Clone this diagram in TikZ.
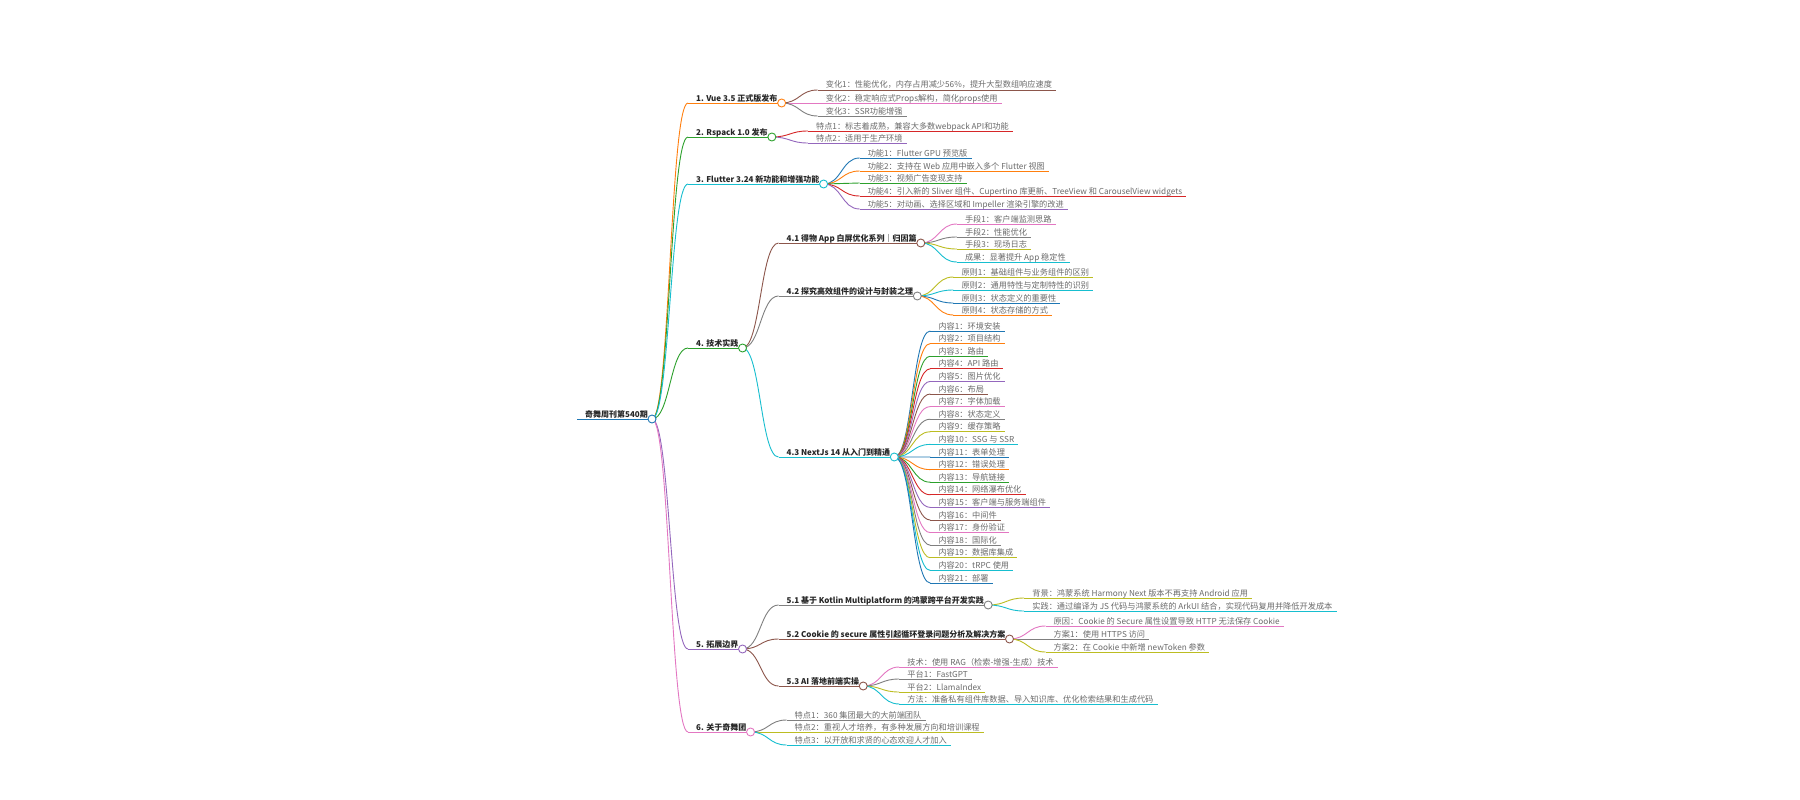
\documentclass[tikz,border=0pt]{standalone}
\usepackage{fontspec}
\setmainfont{Noto Sans CJK SC}
\usetikzlibrary{calc}
\pgfdeclarelayer{bg}
\pgfsetlayers{bg,main}
\definecolor{cBlue}{HTML}{1F77B4}
\definecolor{cOrange}{HTML}{FF7F0E}
\definecolor{cGreen}{HTML}{2CA02C}
\definecolor{cRed}{HTML}{D62728}
\definecolor{cPurple}{HTML}{9467BD}
\definecolor{cBrown}{HTML}{8C564B}
\definecolor{cPink}{HTML}{E377C2}
\definecolor{cGray}{HTML}{7F7F7F}
\definecolor{cOlive}{HTML}{BCBD22}
\definecolor{cCyan}{HTML}{17BECF}
\tikzset{
  mmline/.style={line width=0.9pt},
  mmbold/.style={font=\fontsize{8.0}{10}\selectfont\bfseries, text=black!85},
  mmleaf/.style={font=\fontsize{8.2}{10}\selectfont, text=black!58},
  mmdot/.style={circle, draw=#1, fill=white, line width=0.9pt, inner sep=0pt, minimum size=8pt},
}
% #1 parent, #2 name, #3 y, #4 colour, #5 style, #6 text
\newcommand\mmnode[6]{%
  \coordinate (mmtmp) at (0,#3);
  \path (#1-e |- mmtmp) ++(36,0) coordinate (#2-s);
  \node[anchor=base west, inner sep=0pt, #5] (#2) at ([shift={(8,-2)}]#2-s) {#6};
  \path (#2.base east) ++(4,2) coordinate (#2-e);
  \draw[#4, mmline] (#2-s) -- (#2-e);
  \begin{pgfonlayer}{bg}
    \draw[#4, mmline] (#1-e) .. controls +(18,0) and +(-18,0) .. (#2-s);
  \end{pgfonlayer}%
}
\newcommand\mmdot[2]{\node[mmdot=#2] (#1-c) at (#1-e) {};}
\begin{document}
\begin{tikzpicture}[x=1pt, y=-1pt]
\begin{pgfonlayer}{bg}
\fill[white] (0,0) rectangle (1800,800);
\end{pgfonlayer}
\useasboundingbox (0,0) rectangle (1800,800);

% root
\coordinate (root-s) at (577,419);
\node[anchor=base west, inner sep=0pt, mmbold] (root) at (585,417) {奇舞周刊第540期};
\path (root.base east) ++(4,2) coordinate (root-e);
\draw[cBlue, mmline] (root-s) -- (root-e);

% 1
\mmnode{root}{a}{103}{cOrange}{mmbold}{1. Vue 3.5 正式版发布}
\mmnode{a}{a1}{90}{cBrown}{mmleaf}{变化1：性能优化，内存占用减少56\%，提升大型数组响应速度}
\mmnode{a}{a2}{103}{cPink}{mmleaf}{变化2：稳定响应式Props解构，简化props使用}
\mmnode{a}{a3}{116}{cGray}{mmleaf}{变化3：SSR功能增强}
\mmdot{a}{cOrange}

% 2
\mmnode{root}{b}{137}{cGreen}{mmbold}{2. Rspack 1.0 发布}
\mmnode{b}{b1}{131}{cRed}{mmleaf}{特点1：标志着成熟，兼容大多数webpack API和功能}
\mmnode{b}{b2}{143}{cPurple}{mmleaf}{特点2：适用于生产环境}
\mmdot{b}{cGreen}

% 3
\mmnode{root}{c}{184}{cCyan}{mmbold}{3. Flutter 3.24 新功能和增强功能}
\mmnode{c}{c1}{158}{cBlue}{mmleaf}{功能1：Flutter GPU 预览版}
\mmnode{c}{c2}{171}{cOrange}{mmleaf}{功能2：支持在 Web 应用中嵌入多个 Flutter 视图}
\mmnode{c}{c3}{183}{cGreen}{mmleaf}{功能3：视频广告变现支持}
\mmnode{c}{c4}{196}{cRed}{mmleaf}{功能4：引入新的 Sliver 组件、Cupertino 库更新、TreeView 和 CarouselView widgets}
\mmnode{c}{c5}{209}{cPurple}{mmleaf}{功能5：对动画、选择区域和 Impeller 渲染引擎的改进}
\mmdot{c}{cCyan}

% 4
\mmnode{root}{d}{348}{cGreen}{mmbold}{4. 技术实践}
\mmnode{d}{d1}{243}{cBrown}{mmbold}{4.1 得物 App 白屏优化系列｜归因篇}
\mmnode{d1}{d11}{224}{cPink}{mmleaf}{手段1：客户端监测思路}
\mmnode{d1}{d12}{237}{cGray}{mmleaf}{手段2：性能优化}
\mmnode{d1}{d13}{249}{cOlive}{mmleaf}{手段3：现场日志}
\mmnode{d1}{d14}{262}{cCyan}{mmleaf}{成果：显著提升 App 稳定性}
\mmdot{d1}{cBrown}
\mmnode{d}{d2}{296}{cGray}{mmbold}{4.2 探究高效组件的设计与封装之理}
\mmnode{d2}{d21}{277}{cOlive}{mmleaf}{原则1：基础组件与业务组件的区别}
\mmnode{d2}{d22}{290}{cCyan}{mmleaf}{原则2：通用特性与定制特性的识别}
\mmnode{d2}{d23}{303}{cBlue}{mmleaf}{原则3：状态定义的重要性}
\mmnode{d2}{d24}{315}{cOrange}{mmleaf}{原则4：状态存储的方式}
\mmdot{d2}{cGray}
\mmnode{d}{d3}{457}{cCyan}{mmbold}{4.3 NextJs 14 从入门到精通}
\foreach \t/\c [count=\i] in {环境安装/cBlue, 项目结构/cOrange, 路由/cGreen, API 路由/cRed,
  图片优化/cPurple, 布局/cBrown, 字体加载/cPink, 状态定义/cGray, 缓存策略/cOlive,
  SSG 与 SSR/cCyan, 表单处理/cBlue, 错误处理/cOrange, 导航链接/cGreen, 网络瀑布优化/cRed,
  客户端与服务端组件/cPurple, 中间件/cBrown, 身份验证/cPink, 国际化/cGray,
  数据库集成/cOlive, tRPC 使用/cCyan, 部署/cBlue}{
  \pgfmathsetmacro\yy{331+12.6*(\i-1)}
  \mmnode{d3}{d3x\i}{\yy}{\c}{mmleaf}{内容\i：\t}
}
\mmdot{d3}{cCyan}
\mmdot{d}{cGreen}

% 5
\mmnode{root}{e}{649}{cPurple}{mmbold}{5. 拓展边界}
\mmnode{e}{e1}{605}{cGray}{mmbold}{5.1 基于 Kotlin Multiplatform 的鸿蒙跨平台开发实践}
\mmnode{e1}{e11}{598}{cOlive}{mmleaf}{背景：鸿蒙系统 Harmony Next 版本不再支持 Android 应用}
\mmnode{e1}{e12}{611}{cCyan}{mmleaf}{实践：通过编译为 JS 代码与鸿蒙系统的 ArkUI 结合，实现代码复用并降低开发成本}
\mmdot{e1}{cGray}
\mmnode{e}{e2}{639}{cBrown}{mmbold}{5.2 Cookie 的 secure 属性引起循环登录问题分析及解决方案}
\mmnode{e2}{e21}{626}{cPink}{mmleaf}{原因：Cookie 的 Secure 属性设置导致 HTTP 无法保存 Cookie}
\mmnode{e2}{e22}{639}{cGray}{mmleaf}{方案1：使用 HTTPS 访问}
\mmnode{e2}{e23}{652}{cOlive}{mmleaf}{方案2：在 Cookie 中新增 newToken 参数}
\mmdot{e2}{cBrown}
\mmnode{e}{e3}{686}{cBrown}{mmbold}{5.3 AI 落地前端实操}
\mmnode{e3}{e31}{667}{cPink}{mmleaf}{技术：使用 RAG（检索-增强-生成）技术}
\mmnode{e3}{e32}{679}{cGray}{mmleaf}{平台1：FastGPT}
\mmnode{e3}{e33}{692}{cOlive}{mmleaf}{平台2：LlamaIndex}
\mmnode{e3}{e34}{704}{cCyan}{mmleaf}{方法：准备私有组件库数据、导入知识库、优化检索结果和生成代码}
\mmdot{e3}{cBrown}
\mmdot{e}{cPurple}

% 6
\mmnode{root}{f}{732}{cPink}{mmbold}{6. 关于奇舞团}
\mmnode{f}{f1}{720}{cGray}{mmleaf}{特点1：360 集团最大的大前端团队}
\mmnode{f}{f2}{732}{cOlive}{mmleaf}{特点2：重视人才培养，有多种发展方向和培训课程}
\mmnode{f}{f3}{745}{cCyan}{mmleaf}{特点3：以开放和求贤的心态欢迎人才加入}
\mmdot{f}{cPink}

\mmdot{root}{cBlue}
\end{tikzpicture}
\end{document}
